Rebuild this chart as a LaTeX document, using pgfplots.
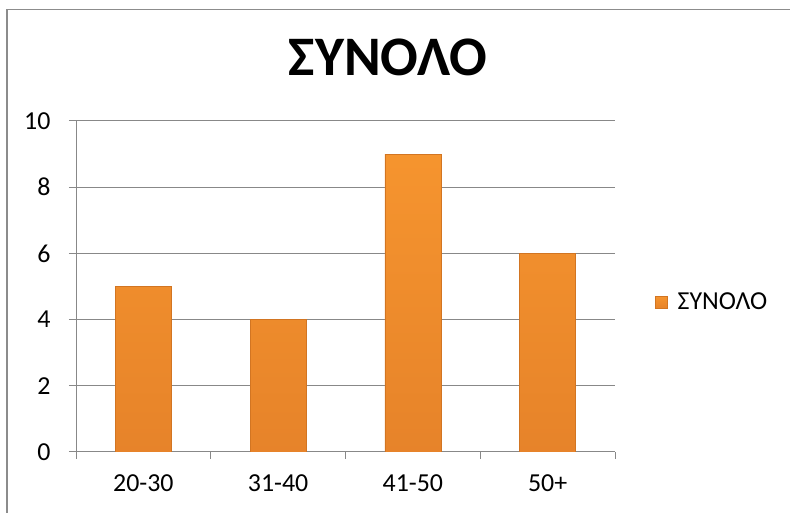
\documentclass[border=0pt]{standalone}
\usepackage{pgfplots}
\pgfplotsset{compat=1.18}
\usepackage{fontspec}
\setmainfont{Carlito}

\definecolor{gridgray}{HTML}{888888}
\definecolor{bartop}{HTML}{FBB84A}
\definecolor{barmid}{HTML}{F7962F}
\definecolor{barbot}{HTML}{E27E28}
\definecolor{baredge}{HTML}{D27522}
\definecolor{framegray}{HTML}{8C8C8C}

% bar fill: darker at the foot, light bevel at the top
\pgfdeclareverticalshading{barshade}{100bp}{%
  color(0bp)=(barbot); color(10bp)=(barbot); color(80bp)=(barmid);
  color(88bp)=(barmid); color(90bp)=(bartop); color(100bp)=(bartop)}

\begin{document}
\begin{tikzpicture}[x=1bp,y=1bp]
  \useasboundingbox (0,0) rectangle (790,513);
  % outer chart frame
  \draw[framegray, line width=1.5bp] (7,-20) -- (7,503.5) -- (820,503.5);
  % title
  \node[anchor=base, font=\fontsize{56}{64}\selectfont\bfseries, inner sep=0pt] at (388,437) {ΣΥΝΟΛΟ};
  \begin{axis}[
    at={(76bp,61bp)}, anchor=south west,
    scale only axis, width=539bp, height=331bp,
    xmin=-0.5, xmax=3.5, ymin=0, ymax=10,
    axis x line*=bottom, axis y line*=left,
    axis line style={gridgray, line width=1bp},
    ytick={0,2,...,10},
    ymajorgrids, grid style={gridgray, line width=1bp},
    xtick={-0.5,0.5,...,3.5}, xticklabels={},
    extra x ticks={0,1,2,3},
    extra x tick labels={20-30,31-40,41-50,50+},
    extra x tick style={major tick length=0pt, grid=none},
    tick align=outside, major tick length=7bp,
    tick style={gridgray, line width=1bp},
    /pgf/number format/assume math mode=true,
    tick label style={font=\fontsize{26}{30}\selectfont, text=black},
    yticklabel style={xshift=-15bp},
    xticklabel style={yshift=-19bp},
    ybar, bar width=56bp,
    legend style={at={(rel axis cs:1.074,0.453)}, anchor=west, draw=none, fill=none,
      font=\fontsize{26}{30}\selectfont, inner sep=0pt},
    legend image code/.code={%
      \draw[baredge, line width=0.6bp, shading=barshade] (0bp,-6bp) rectangle (12bp,6bp);},
    legend cell align=left,
  ]
    \addplot[draw=baredge, line width=0.6bp, shading=barshade]
      coordinates {(0,5) (1,4) (2,9) (3,6)};
    \addlegendentry{\hspace*{8bp}ΣΥΝΟΛΟ}
  \end{axis}
\end{tikzpicture}
\end{document}
